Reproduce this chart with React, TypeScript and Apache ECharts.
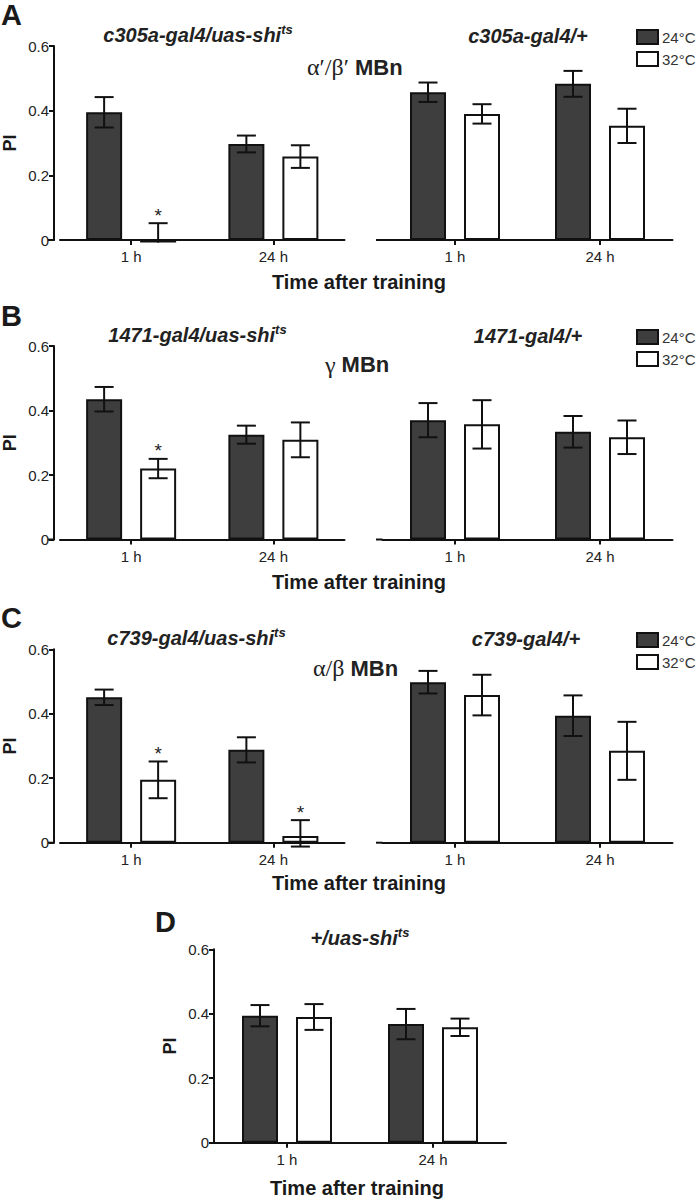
import React, { useEffect, useRef } from 'react';
import * as echarts from 'echarts';

// ---------- data ----------
const categories = ['1 h', '24 h'];
const legendNames = ['24°C', '32°C'];

// Panel A, c305a-gal4/uas-shi ts
const aShiMean24 = [0.395, 0.297];
const aShiErrUp24 = [0.047, 0.026];
const aShiErrDn24 = [0.047, 0.026];
const aShiMean32 = [-0.008, 0.258];
const aShiErrUp32 = [0.06, 0.035];
const aShiErrDn32 = [0, 0.035];
const aShiSig32 = [1, 0];

// Panel A, c305a-gal4/+
const aCtlMean24 = [0.457, 0.483];
const aCtlErr24 = [0.03, 0.04];
const aCtlMean32 = [0.39, 0.353];
const aCtlErr32 = [0.03, 0.053];

// Panel B, 1471-gal4/uas-shi ts
const bShiMean24 = [0.435, 0.325];
const bShiErr24 = [0.038, 0.028];
const bShiMean32 = [0.22, 0.309];
const bShiErr32 = [0.03, 0.054];
const bShiSig32 = [1, 0];

// Panel B, 1471-gal4/+
const bCtlMean24 = [0.37, 0.334];
const bCtlErr24 = [0.053, 0.049];
const bCtlMean32 = [0.357, 0.317];
const bCtlErr32 = [0.075, 0.052];

// Panel C, c739-gal4/uas-shi ts
const cShiMean24 = [0.451, 0.288];
const cShiErr24 = [0.024, 0.039];
const cShiMean32 = [0.195, 0.021];
const cShiErrUp32 = [0.057, 0.049];
const cShiErrDn32 = [0.057, 0.033];
const cShiSig32 = [1, 1];

// Panel C, c739-gal4/+
const cCtlMean24 = [0.498, 0.394];
const cCtlErr24 = [0.035, 0.063];
const cCtlMean32 = [0.458, 0.285];
const cCtlErr32 = [0.063, 0.09];

// Panel D, +/uas-shi ts
const dMean24 = [0.394, 0.368];
const dErr24 = [0.033, 0.047];
const dMean32 = [0.39, 0.358];
const dErr32 = [0.04, 0.027];

const noSig = [0, 0];

// ---------- styles ----------
const SANS = '"Liberation Sans", Arial, Helvetica, sans-serif';
const SERIF = '"Liberation Serif", "Times New Roman", serif';
const INK = '#111';
const DARK = '#3e3e3e';
const TXT = '#222';
const BAR_W = 36;
const BAR_GAP = 0.5;
const OFFSET = (BAR_W * (1 + BAR_GAP)) / 2;
const CAP = 9.5;

type Panel = {
  left: number; top: number; width: number; height: number; showY: boolean; yOffset: number;
  m24: number[]; u24: number[]; d24: number[]; s24: number[];
  m32: number[]; u32: number[]; d32: number[]; s32: number[];
};

const L = { left: 54.5, width: 290 };
const R = { left: 382.5, width: 290 };

const panels: Panel[] = [
  { ...L, top: 46, height: 194, showY: true, yOffset: 6,
    m24: aShiMean24, u24: aShiErrUp24, d24: aShiErrDn24, s24: noSig,
    m32: aShiMean32, u32: aShiErrUp32, d32: aShiErrDn32, s32: aShiSig32 },
  { ...R, top: 46, height: 194, showY: false, yOffset: 0,
    m24: aCtlMean24, u24: aCtlErr24, d24: aCtlErr24, s24: noSig,
    m32: aCtlMean32, u32: aCtlErr32, d32: aCtlErr32, s32: noSig },
  { ...L, top: 346, height: 193.5, showY: true, yOffset: 6,
    m24: bShiMean24, u24: bShiErr24, d24: bShiErr24, s24: noSig,
    m32: bShiMean32, u32: bShiErr32, d32: bShiErr32, s32: bShiSig32 },
  { ...R, top: 346, height: 193.5, showY: false, yOffset: 0,
    m24: bCtlMean24, u24: bCtlErr24, d24: bCtlErr24, s24: noSig,
    m32: bCtlMean32, u32: bCtlErr32, d32: bCtlErr32, s32: noSig },
  { ...L, top: 649.3, height: 193.4, showY: true, yOffset: 6,
    m24: cShiMean24, u24: cShiErr24, d24: cShiErr24, s24: noSig,
    m32: cShiMean32, u32: cShiErrUp32, d32: cShiErrDn32, s32: cShiSig32 },
  { ...R, top: 649.3, height: 193.4, showY: false, yOffset: 0,
    m24: cCtlMean24, u24: cCtlErr24, d24: cCtlErr24, s24: noSig,
    m32: cCtlMean32, u32: cCtlErr32, d32: cCtlErr32, s32: noSig },
  { left: 214, width: 292, top: 949.3, height: 193.4, showY: true, yOffset: 0,
    m24: dMean24, u24: dErr24, d24: dErr24, s24: noSig,
    m32: dMean32, u32: dErr32, d32: dErr32, s32: noSig },
];

function errRender(sign: number) {
  return (params: any, api: any) => {
    const ci = api.value(0);
    const m = api.value(1);
    const up = api.value(2);
    const dn = api.value(3);
    const sig = api.value(4);
    const x = api.coord([ci, m])[0] + sign * OFFSET;
    const yTop = api.coord([ci, m + up])[1];
    const yBot = api.coord([ci, m - dn])[1];
    const ls = { stroke: INK, lineWidth: 2 };
    const children: any[] = [
      { type: 'line', shape: { x1: x, y1: yTop, x2: x, y2: yBot }, style: ls },
      { type: 'line', shape: { x1: x - CAP, y1: yTop, x2: x + CAP, y2: yTop }, style: ls },
    ];
    if (dn > 0) {
      children.push({ type: 'line', shape: { x1: x - CAP, y1: yBot, x2: x + CAP, y2: yBot }, style: ls });
    }
    if (sig) {
      children.push({
        type: 'text', x, y: yTop - 8,
        style: { text: '*', fontSize: 19, fontFamily: SANS, fill: TXT,
          align: 'center', verticalAlign: 'middle', textAlign: 'center', textVerticalAlign: 'middle' },
      });
    }
    return { type: 'group', children };
  };
}

function titleText(x: number, y: number, main: string, sup: string) {
  const text = sup ? `{t|${main}}{s|${sup}}` : `{t|${main}}`;
  return {
    type: 'text', x, y, z: 10,
    style: {
      text,
      align: 'center', verticalAlign: 'middle', textAlign: 'center', textVerticalAlign: 'middle',
      rich: {
        t: { fontSize: 20, fontWeight: 'bold', fontStyle: 'italic', fontFamily: SANS, fill: TXT, color: TXT, lineHeight: 24 },
        s: { fontSize: 13, fontWeight: 'bold', fontStyle: 'italic', fontFamily: SANS, fill: TXT, color: TXT, lineHeight: 14, verticalAlign: 'top' },
      },
    },
  };
}

function mbnText(x: number, y: number, greek: string) {
  return {
    type: 'text', x, y, z: 10,
    style: {
      text: `{g|${greek} }{m|MBn}`,
      align: 'left', verticalAlign: 'middle', textAlign: 'left', textVerticalAlign: 'middle',
      rich: {
        g: { fontSize: 24, fontFamily: SERIF, fill: TXT, color: TXT },
        m: { fontSize: 22, fontWeight: 'bold', fontFamily: SANS, fill: TXT, color: TXT },
      },
    },
  };
}

function plainText(x: number, y: number, text: string, size: number, align = 'center', lh?: number) {
  return {
    type: 'text', x, y, z: 10,
    style: {
      text, fontSize: size, fontWeight: 'bold', fontFamily: SANS, fill: '#1a1a1a',
      lineHeight: lh,
      align, verticalAlign: 'middle', textAlign: align, textVerticalAlign: 'middle',
    },
  };
}

function extLine(x1: number, x2: number, y: number) {
  return { type: 'line', z: 10, shape: { x1, y1: y, x2, y2: y }, style: { stroke: INK, lineWidth: 2 } };
}

function buildOption() {
  const grid = panels.map((p) => ({ left: p.left, top: p.top, width: p.width, height: p.height }));
  const xAxis = panels.map((p, i) => ({
    type: 'category', gridIndex: i, data: categories,
    axisLine: { show: true, lineStyle: { color: INK, width: 2 } },
    axisTick: { show: true, alignWithLabel: true, length: 5, lineStyle: { color: INK, width: 2 } },
    axisLabel: { fontSize: 15, color: TXT, margin: 9, fontFamily: SANS },
    splitLine: { show: false },
  }));
  const yAxis = panels.map((p, i) => ({
    type: 'value', gridIndex: i, min: 0, max: 0.6, interval: 0.2, show: p.showY, offset: p.yOffset,
    name: 'PI', nameLocation: 'middle', nameGap: 35, nameRotate: 90,
    nameTextStyle: { fontWeight: 'bold', fontSize: 18, color: '#1a1a1a', fontFamily: SANS },
    axisLine: { show: true, lineStyle: { color: INK, width: 2 } },
    axisTick: { show: true, length: 5, lineStyle: { color: INK, width: 2 } },
    axisLabel: { fontSize: 15, color: TXT, margin: 5, fontFamily: SANS },
    splitLine: { show: false },
  }));
  const series: any[] = [];
  panels.forEach((p, i) => {
    series.push({
      type: 'bar', name: legendNames[0], xAxisIndex: i, yAxisIndex: i, data: p.m24,
      barWidth: BAR_W, barGap: `${BAR_GAP * 100}%`, clip: false, z: 2,
      itemStyle: { color: DARK, borderColor: INK, borderWidth: 2 },
    });
    series.push({
      type: 'bar', name: legendNames[1], xAxisIndex: i, yAxisIndex: i, data: p.m32,
      barWidth: BAR_W, barGap: `${BAR_GAP * 100}%`, clip: false, z: 2,
      itemStyle: { color: '#ffffff', borderColor: INK, borderWidth: 2 },
    });
    series.push({
      type: 'custom', name: 'err24', xAxisIndex: i, yAxisIndex: i, z: 5, clip: false,
      encode: { x: 0, y: 1 },
      data: p.m24.map((m, k) => [k, m, p.u24[k], p.d24[k], p.s24[k]]),
      renderItem: errRender(-1),
    });
    series.push({
      type: 'custom', name: 'err32', xAxisIndex: i, yAxisIndex: i, z: 5, clip: false,
      encode: { x: 0, y: 1 },
      data: p.m32.map((m, k) => [k, m, p.u32[k], p.d32[k], p.s32[k]]),
      renderItem: errRender(1),
    });
  });

  const legendTops = [29, 329, 632];
  const legend = legendTops.map((t) => ({
    orient: 'vertical', left: 636, top: t, padding: 0,
    itemWidth: 21, itemHeight: 14, itemGap: 6, selectedMode: false,
    data: legendNames.map((n) => ({ name: n, icon: 'rect' })),
    textStyle: { fontSize: 15, color: '#333', fontFamily: SANS, lineHeight: 14, padding: [0, 0, 0, -1] },
  }));

  const baselines = panels.map((p) => p.top + p.height);
  const graphic: any[] = [
    plainText(1, 15, 'A', 29, 'left', 29),
    plainText(1, 316, 'B', 29, 'left', 29),
    plainText(1, 618, 'C', 29, 'left', 29),
    plainText(155, 921.5, 'D', 29, 'left', 29),
    titleText(198, 35, 'c305a-gal4/uas-shi', 'ts'),
    titleText(528, 36, 'c305a-gal4/+', ''),
    titleText(197.5, 335, '1471-gal4/uas-shi', 'ts'),
    titleText(528, 336, '1471-gal4/+', ''),
    titleText(196.5, 638, 'c739-gal4/uas-shi', 'ts'),
    titleText(526, 639, 'c739-gal4/+', ''),
    titleText(360, 938, '+/uas-shi', 'ts'),
    mbnText(307, 67, 'α′/β′'),
    mbnText(325, 364.5, 'γ'),
    mbnText(313, 668, 'α/β'),
    plainText(359, 281.5, 'Time after training', 20),
    plainText(359, 581.5, 'Time after training', 20),
    plainText(359, 883, 'Time after training', 20),
    plainText(357, 1188, 'Time after training', 20),
  ];
  panels.forEach((p, i) => {
    if (i < 6) graphic.push(extLine(p.left - 6.5, p.left, baselines[i]));
  });

  return {
    animation: false,
    backgroundColor: '#ffffff',
    grid, xAxis, yAxis, series, legend, graphic,
  };
}

export default function App() {
  const ref = useRef<HTMLDivElement>(null);
  useEffect(() => {
    if (!ref.current) return;
    const chart = echarts.init(ref.current, null, { renderer: 'svg' });
    chart.setOption(buildOption() as any);
    return () => chart.dispose();
  }, []);
  return (
    <div
      ref={ref}
      style={{ position: 'absolute', left: 0, top: 0, width: 696, height: 1200, background: '#fff' }}
    />
  );
}
